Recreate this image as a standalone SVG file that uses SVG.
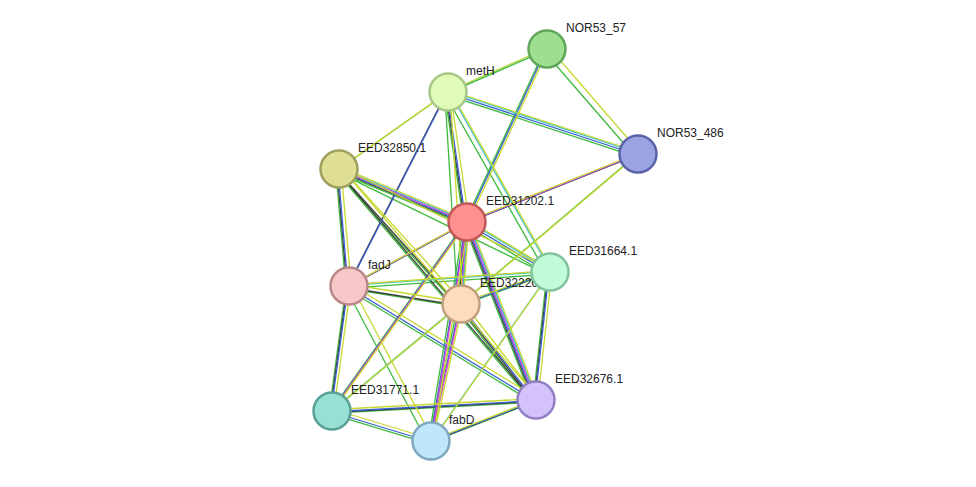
<svg xmlns="http://www.w3.org/2000/svg" width="976" height="487" viewBox="0 0 976 487">
<style>
.e line{stroke-width:1.3;fill:none}
.g line{stroke:#3dbb3d}.k line{stroke:#404040}.b line{stroke:#3a5fd0}.m line{stroke:#d840d8}.c line{stroke:#3cc0d0}.y line{stroke:#c8d830}
.n circle{stroke-width:2.5}
text{font-family:"Liberation Sans",Arial,sans-serif;font-size:12px;fill:#222}
</style>
<rect width="976" height="487" fill="#fff"/>
<g id="connectors" class="e">
<g class="g" transform="translate(-3.1,2.3)">
<line x1="547" y1="49" x2="448" y2="92"/><line x1="547" y1="49" x2="638" y2="154"/><line x1="547" y1="49" x2="467" y2="222"/>
<line x1="448" y1="92" x2="638" y2="154"/><line x1="448" y1="92" x2="339" y2="169"/><line x1="448" y1="92" x2="467" y2="222"/><line x1="448" y1="92" x2="550" y2="272"/><line x1="448" y1="92" x2="461" y2="304"/>
<line x1="638" y1="154" x2="461" y2="304"/>
<line x1="339" y1="169" x2="467" y2="222"/><line x1="339" y1="169" x2="349" y2="286"/><line x1="339" y1="169" x2="461" y2="304"/><line x1="339" y1="169" x2="536" y2="400"/><line x1="339" y1="169" x2="550" y2="272"/>
<line x1="467" y1="222" x2="349" y2="286"/><line x1="467" y1="222" x2="550" y2="272"/><line x1="467" y1="222" x2="461" y2="304"/><line x1="467" y1="222" x2="536" y2="400"/><line x1="467" y1="222" x2="332" y2="411"/><line x1="467" y1="222" x2="431" y2="441"/>
<line x1="349" y1="286" x2="550" y2="272"/><line x1="349" y1="286" x2="461" y2="304"/><line x1="349" y1="286" x2="536" y2="400"/><line x1="349" y1="286" x2="332" y2="411"/><line x1="349" y1="286" x2="431" y2="441"/>
<line x1="550" y1="272" x2="461" y2="304"/><line x1="550" y1="272" x2="536" y2="400"/>
<line x1="461" y1="304" x2="536" y2="400"/><line x1="461" y1="304" x2="332" y2="411"/><line x1="461" y1="304" x2="431" y2="441"/>
<line x1="536" y1="400" x2="332" y2="411"/><line x1="536" y1="400" x2="431" y2="441"/><line x1="332" y1="411" x2="431" y2="441"/>
</g>
<g class="k" transform="translate(-2,1.5)">
<line x1="448" y1="92" x2="467" y2="222"/><line x1="448" y1="92" x2="349" y2="286"/><line x1="638" y1="154" x2="467" y2="222"/>
<line x1="339" y1="169" x2="467" y2="222"/><line x1="339" y1="169" x2="349" y2="286"/><line x1="339" y1="169" x2="461" y2="304"/><line x1="339" y1="169" x2="536" y2="400"/>
<line x1="349" y1="286" x2="461" y2="304"/><line x1="349" y1="286" x2="332" y2="411"/><line x1="550" y1="272" x2="536" y2="400"/>
<line x1="461" y1="304" x2="536" y2="400"/><line x1="536" y1="400" x2="332" y2="411"/><line x1="536" y1="400" x2="431" y2="441"/><line x1="467" y1="222" x2="536" y2="400"/><line x1="467" y1="222" x2="461" y2="304"/>
</g>
<g class="b" transform="translate(-1,0.75)">
<line x1="547" y1="49" x2="467" y2="222"/><line x1="448" y1="92" x2="638" y2="154"/><line x1="448" y1="92" x2="467" y2="222"/><line x1="448" y1="92" x2="349" y2="286"/><line x1="638" y1="154" x2="467" y2="222"/>
<line x1="339" y1="169" x2="467" y2="222"/><line x1="339" y1="169" x2="349" y2="286"/><line x1="467" y1="222" x2="349" y2="286"/><line x1="467" y1="222" x2="550" y2="272"/><line x1="467" y1="222" x2="461" y2="304"/><line x1="467" y1="222" x2="536" y2="400"/><line x1="467" y1="222" x2="332" y2="411"/><line x1="467" y1="222" x2="431" y2="441"/>
<line x1="550" y1="272" x2="461" y2="304"/><line x1="550" y1="272" x2="536" y2="400"/><line x1="349" y1="286" x2="536" y2="400"/><line x1="349" y1="286" x2="332" y2="411"/>
<line x1="461" y1="304" x2="536" y2="400"/><line x1="461" y1="304" x2="431" y2="441"/><line x1="536" y1="400" x2="332" y2="411"/><line x1="536" y1="400" x2="431" y2="441"/><line x1="332" y1="411" x2="431" y2="441"/>
</g>
<g class="m">
<line x1="638" y1="154" x2="467" y2="222"/><line x1="339" y1="169" x2="467" y2="222"/><line x1="467" y1="222" x2="349" y2="286"/><line x1="467" y1="222" x2="461" y2="304"/><line x1="467" y1="222" x2="536" y2="400"/><line x1="467" y1="222" x2="332" y2="411"/><line x1="467" y1="222" x2="431" y2="441"/><line x1="461" y1="304" x2="431" y2="441"/>
</g>
<g class="c" transform="translate(1,-0.75)">
<line x1="547" y1="49" x2="448" y2="92"/><line x1="448" y1="92" x2="638" y2="154"/><line x1="448" y1="92" x2="550" y2="272"/><line x1="467" y1="222" x2="550" y2="272"/><line x1="349" y1="286" x2="550" y2="272"/><line x1="550" y1="272" x2="431" y2="441"/><line x1="461" y1="304" x2="332" y2="411"/><line x1="467" y1="222" x2="461" y2="304"/><line x1="467" y1="222" x2="536" y2="400"/><line x1="339" y1="169" x2="467" y2="222"/>
</g>
<g class="y" transform="translate(2,-1.5)">
<line x1="547" y1="49" x2="448" y2="92"/><line x1="547" y1="49" x2="638" y2="154"/><line x1="547" y1="49" x2="467" y2="222"/>
<line x1="448" y1="92" x2="638" y2="154"/><line x1="448" y1="92" x2="339" y2="169"/><line x1="448" y1="92" x2="467" y2="222"/><line x1="448" y1="92" x2="550" y2="272"/><line x1="448" y1="92" x2="461" y2="304"/>
<line x1="638" y1="154" x2="461" y2="304"/><line x1="638" y1="154" x2="467" y2="222"/>
<line x1="339" y1="169" x2="467" y2="222"/><line x1="339" y1="169" x2="349" y2="286"/><line x1="339" y1="169" x2="461" y2="304"/><line x1="339" y1="169" x2="536" y2="400"/><line x1="339" y1="169" x2="550" y2="272"/>
<line x1="467" y1="222" x2="349" y2="286"/><line x1="467" y1="222" x2="550" y2="272"/><line x1="467" y1="222" x2="461" y2="304"/><line x1="467" y1="222" x2="536" y2="400"/><line x1="467" y1="222" x2="332" y2="411"/><line x1="467" y1="222" x2="431" y2="441"/>
<line x1="349" y1="286" x2="550" y2="272"/><line x1="349" y1="286" x2="461" y2="304"/><line x1="349" y1="286" x2="536" y2="400"/><line x1="349" y1="286" x2="332" y2="411"/><line x1="349" y1="286" x2="431" y2="441"/>
<line x1="550" y1="272" x2="461" y2="304"/><line x1="550" y1="272" x2="536" y2="400"/><line x1="550" y1="272" x2="431" y2="441"/>
<line x1="461" y1="304" x2="536" y2="400"/><line x1="461" y1="304" x2="332" y2="411"/><line x1="461" y1="304" x2="431" y2="441"/>
<line x1="536" y1="400" x2="332" y2="411"/><line x1="536" y1="400" x2="431" y2="441"/><line x1="332" y1="411" x2="431" y2="441"/>
</g>
</g>
<g id="labels">
<text x="566" y="32">NOR53_57</text><text x="466" y="75">metH</text><text x="657" y="137">NOR53_486</text>
<text x="358" y="152">EED32850.1</text><text x="486" y="205">EED31202.1</text><text x="569" y="255">EED31664.1</text>
<text x="368" y="269">fadJ</text><text x="480" y="287">EED32226.1</text><text x="555" y="383">EED32676.1</text>
<text x="351" y="394">EED31771.1</text><text x="449" y="424">fabD</text>
</g>
<g id="NOR53_57" class="n"><circle cx="547" cy="49" r="18.5" fill="#9ddf8f" stroke="#5fa55a"/></g>
<g id="metH" class="n"><circle cx="448" cy="92" r="18.5" fill="#e0fbb8" stroke="#a8c88a"/></g>
<g id="NOR53_486" class="n"><circle cx="638" cy="154" r="18.5" fill="#9aa4e2" stroke="#5a62a8"/></g>
<g id="EED32850.1" class="n"><circle cx="339" cy="169" r="18.5" fill="#dede94" stroke="#a0a05e"/></g>
<g id="EED31202.1" class="n"><circle cx="467" cy="222" r="18.5" fill="#ff9090" stroke="#c05858"/></g>
<g id="EED31664.1" class="n"><circle cx="550" cy="272" r="18.5" fill="#c0fcd8" stroke="#80c49c"/></g>
<g id="fadJ" class="n"><circle cx="349" cy="286" r="18.5" fill="#f8c8c8" stroke="#b88888"/></g>
<g id="EED32226.1" class="n"><circle cx="461" cy="304" r="18.5" fill="#fcdcbc" stroke="#c0a07c"/></g>
<g id="EED32676.1" class="n"><circle cx="536" cy="400" r="18.5" fill="#d4c2fa" stroke="#9080c0"/></g>
<g id="EED31771.1" class="n"><circle cx="332" cy="411" r="18.5" fill="#98dfd4" stroke="#58a096"/></g>
<g id="fabD" class="n"><circle cx="431" cy="441" r="18.5" fill="#c0e6fa" stroke="#80a8c0"/></g>
</svg>
